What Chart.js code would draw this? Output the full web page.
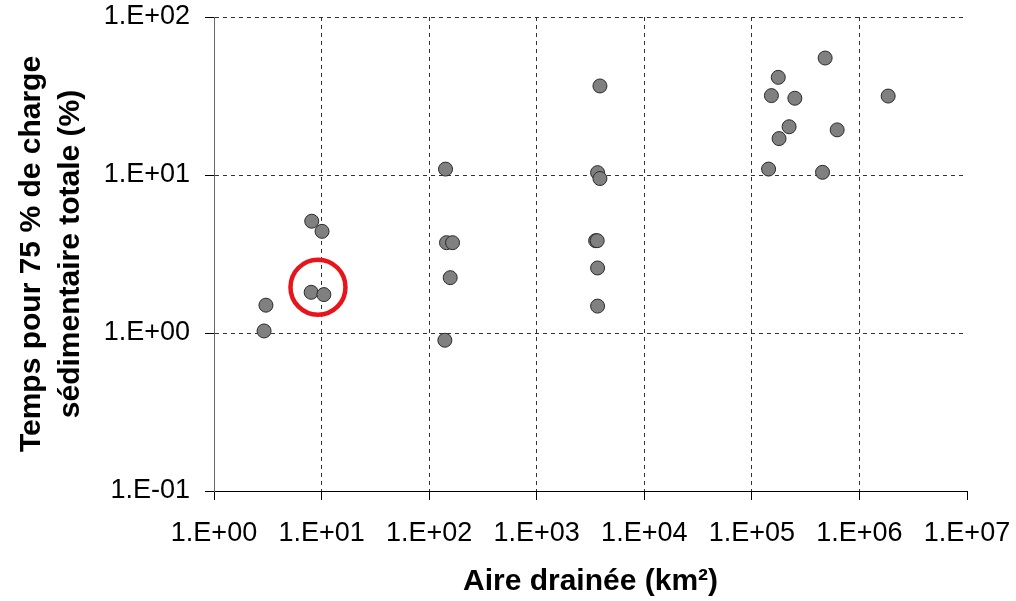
<!DOCTYPE html>
<html lang="fr">
<head>
<meta charset="utf-8">
<title>Temps pour 75 % de charge sédimentaire totale</title>
<script src="https://cdn.jsdelivr.net/npm/chart.js@4/dist/chart.umd.min.js"></script>
<style>
  html, body { margin: 0; padding: 0; background: #ffffff; }
  #zone { width: 1016px; height: 601px; position: relative; }
</style>
</head>
<body>
<div id="zone"><canvas id="graphique"></canvas></div>
<script>
// Aire drainée (km²) et temps pour 75 % de la charge (%)
const aireKm2 = [
    2.92, 3.04, 8.1, 10.1, 8.0, 10.5,
    142, 145, 165, 157, 140,
    3680, 3870, 3530, 3650, 3680, 3680, 3870,
    480000, 176000, 152000, 251000, 1850000, 222000, 179000, 621000, 143000, 454000
];
const tempsPct = [
    1.03, 1.50, 5.1, 4.4, 1.81, 1.75,
    10.9, 3.73, 3.73, 2.24, 0.90,
    10.35, 9.5, 3.84, 3.84, 2.58, 1.48, 36.6,
    55, 41.5, 31.8, 30.6, 31.6, 20.2, 17.0, 19.3, 10.9, 10.4
];

// Cercle rouge autour des deux bassins mis en évidence
const cercleX = [9.26];
const cercleY = [1.95];

// Graduations décadaires
const ticksX = [1, 10, 100, 1e3, 1e4, 1e5, 1e6, 1e7];
const ticksY = [0.1, 1, 10, 100];

const POLICE = '"Liberation Sans", Arial, Helvetica, sans-serif';

// Format type tableur : 1.E+02, 1.E-01
function formatExp(v) {
    const e = Math.round(Math.log10(v));
    return '1.E' + (e < 0 ? '-' : '+') + String(Math.abs(e)).padStart(2, '0');
}

// Pas de marge automatique autour des étiquettes : la mise en page est fixée
function sansMarge(s) {
    s.paddingTop = 0;
    s.paddingBottom = 0;
    s.paddingLeft = 0;
    s.paddingRight = 0;
}

const points = aireKm2.map((x, i) => ({ x: x, y: tempsPct[i] }));
const cercle = cercleX.map((x, i) => ({ x: x, y: cercleY[i] }));

new Chart(document.getElementById('graphique'), {
    type: 'scatter',
    data: {
        datasets: [
            {
                label: 'Bassins',
                data: points,
                pointRadius: 7,
                pointHoverRadius: 7,
                backgroundColor: '#808080',
                borderColor: '#2a2a2a',
                borderWidth: 1
            },
            {
                label: 'Sélection',
                data: cercle,
                pointRadius: 27.5,
                pointHoverRadius: 27.5,
                backgroundColor: 'rgba(0,0,0,0)',
                borderColor: '#e8141b',
                borderWidth: 4.5
            }
        ]
    },
    options: {
        responsive: true,
        maintainAspectRatio: false,
        animation: false,
        devicePixelRatio: 1,
        layout: { autoPadding: false, padding: { left: 0, right: 49, top: 17, bottom: 0 } },
        plugins: {
            legend: { display: false },
            tooltip: { enabled: false }
        },
        scales: {
            x: {
                type: 'logarithmic',
                min: 1,
                max: 1e7,
                afterBuildTicks: (s) => { s.ticks = ticksX.map(v => ({ value: v })); },
                afterFit: (s) => { s.height = 110; sansMarge(s); },
                border: { display: true, color: '#000000', width: 1, dash: [4, 4] },
                grid: {
                    color: (c) => (c.tick && c.tick.value === 1e7) ? 'rgba(0,0,0,0)' : '#333333',
                    lineWidth: 1,
                    tickLength: 9,
                    tickColor: '#000000',
                    tickWidth: 1
                },
                ticks: {
                    autoSkip: false,
                    maxRotation: 0,
                    padding: 17,
                    color: '#000000',
                    font: { family: POLICE, size: 27 },
                    callback: (v) => formatExp(v)
                },
                title: {
                    display: true,
                    text: 'Aire drainée (km²)',
                    color: '#000000',
                    font: { family: POLICE, size: 30, weight: 'bold' },
                    padding: { top: 0, bottom: 1 }
                }
            },
            y: {
                type: 'logarithmic',
                min: 0.1,
                max: 100,
                afterBuildTicks: (s) => { s.ticks = ticksY.map(v => ({ value: v })); },
                afterFit: (s) => { s.width = 214; sansMarge(s); },
                border: { display: true, color: '#666666', width: 1, dash: [4, 4] },
                grid: {
                    color: '#333333',
                    lineWidth: 1,
                    tickLength: 9,
                    tickColor: '#000000',
                    tickWidth: 1
                },
                ticks: {
                    autoSkip: false,
                    padding: 15,
                    color: '#000000',
                    font: { family: POLICE, size: 27 },
                    callback: (v) => formatExp(v)
                },
                title: {
                    display: true,
                    text: ['Temps pour 75 % de charge', 'sédimentaire totale (%)'],
                    color: '#000000',
                    font: { family: POLICE, size: 30, weight: 'bold', lineHeight: 1.3 },
                    padding: { top: 12, bottom: 0 }
                }
            }
        }
    }
});
</script>
</body>
</html>
